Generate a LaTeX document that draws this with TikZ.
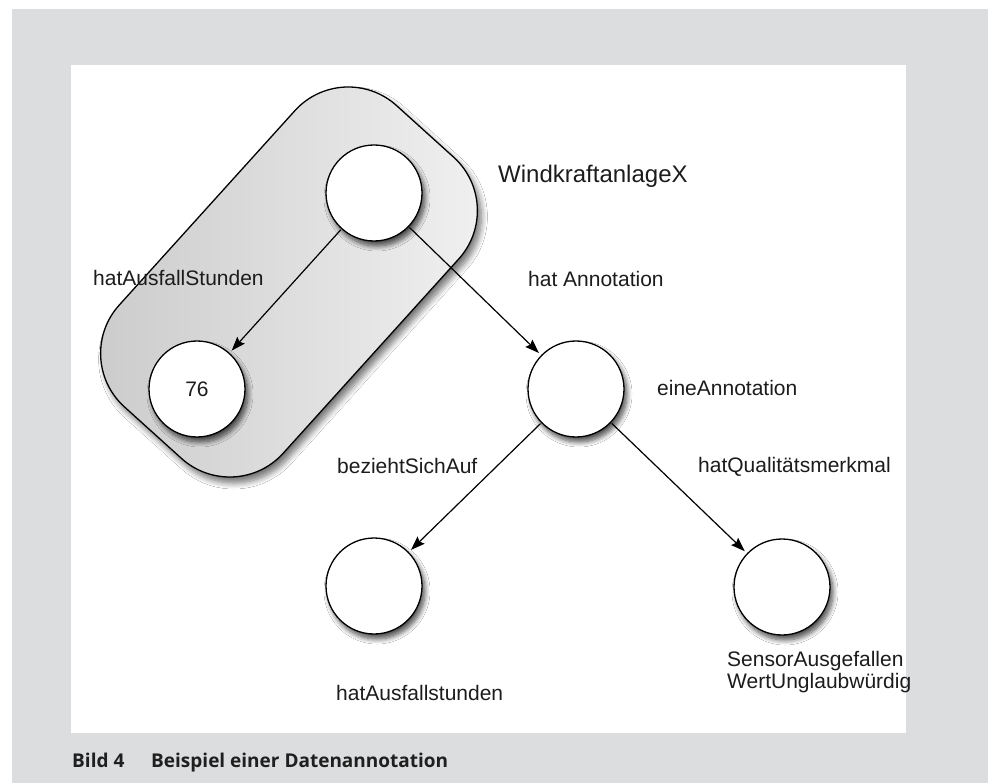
\documentclass[tikz,border=0pt]{standalone}
\usepackage{fontspec}
\setmainfont{Liberation Sans}
\newfontfamily\capfont{Open Sans}
\usetikzlibrary{arrows.meta,shadows.blur}
\definecolor{bggray}{RGB}{220,221,223}
\definecolor{txt}{RGB}{28,28,28}
\tikzset{
 res/.style={circle, draw=black, line width=1.3pt, fill=white, minimum size=96pt, inner sep=0pt,
   font=\fontsize{21}{24}\selectfont, text=txt,
   blur shadow={shadow xshift=3pt, shadow yshift=-5pt, shadow blur radius=5pt, shadow blur steps=8, shadow opacity=70}},
 lbl/.style={anchor=base west, inner sep=0pt, font=\fontsize{21}{24}\selectfont, text=txt},
 rel/.style={draw=black, line width=1.2pt, -{Stealth[length=14pt,width=10pt,inset=2pt]}, shorten >=3pt, shorten <=1pt},
 captxt/.style={anchor=base west, inner sep=0pt, font=\capfont\bfseries\fontsize{19}{22}\selectfont, text=black!88},
 group/.style={draw=black, line width=1.3pt, left color=black!21, right color=black!5, rounded corners=72pt,
   blur shadow={shadow xshift=4pt, shadow yshift=-6pt, shadow blur radius=6pt, shadow blur steps=8, shadow opacity=55}}
}
\begin{document}
\begin{tikzpicture}[x=1pt,y=-1pt]
\useasboundingbox (0,0) rectangle (991,783);
\fill[bggray] (12,9) rectangle (988,783);
\fill[white] (71,65) rectangle (906,733);
\begin{scope}[shift={(289,282)}, rotate=47.9]
\path[group] (-203,-110.5) rectangle (203,110.5);
\end{scope}
\node[res] (w) at (374,193) {};
\node[res] (v) at (197,389) {76};
\node[res] (a) at (576,389) {};
\node[res] (h) at (374,586) {};
\node[res] (q) at (782,587) {};
\draw[rel] (w) -- (v);
\draw[rel] (w) -- (a);
\draw[rel] (a) -- (h);
\draw[rel] (a) -- (q);
\node[lbl, font=\fontsize{24}{28}\selectfont] (lw) at (498,183) {WindkraftanlageX};
\node[lbl] (lv) at (93,286) {hatAusfallStunden};
\node[lbl] (lwa) at (528,287) {hat Annotation};
\node[lbl] (la) at (657,396) {eineAnnotation};
\node[lbl] (lah) at (337,474) {beziehtSichAuf};
\node[lbl] (laq) at (698,473) {hatQualitätsmerkmal};
\node[lbl] (lh) at (336,700) {hatAusfallstunden};
\node[lbl, align=left] (lq) at (727,688) {SensorAusgefallen\\[-2pt]WertUnglaubwürdig};
\node[captxt] (c1) at (72,767) {Bild 4};
\node[captxt] (c2) at (151,767) {Beispiel einer Datenannotation};
\end{tikzpicture}
\end{document}
